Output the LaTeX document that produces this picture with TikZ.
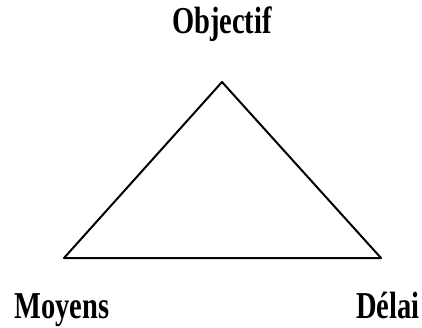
\documentclass[tikz,border=0pt]{standalone}
\usepackage{fontspec}
\setmainfont{Liberation Serif}
\usetikzlibrary{positioning}
\tikzset{
  lbl/.style={font=\fontsize{38}{42}\selectfont\bfseries, xscale=0.75, transform shape, inner sep=0pt, anchor=base},
  side/.style={line width=2pt, line join=round}
}

\begin{document}
\begin{tikzpicture}[x=1pt, y=-1pt]
				\useasboundingbox (0,0) rectangle (422,327);
				% triangle corners
				\coordinate (obj) at (222,82);
				\coordinate (moy) at (64,258);
				\coordinate (del) at (381,258);
				\draw[side] (obj) -- (del) -- (moy) -- cycle;
				% labels
				\node[lbl] (objlbl) at (222,33) {Objectif};
				\node[lbl] (moylbl) at (62,318) {Moyens};
				\node[lbl] (dellbl) at (388,318) {Délai};
		\end{tikzpicture}
\end{document}
